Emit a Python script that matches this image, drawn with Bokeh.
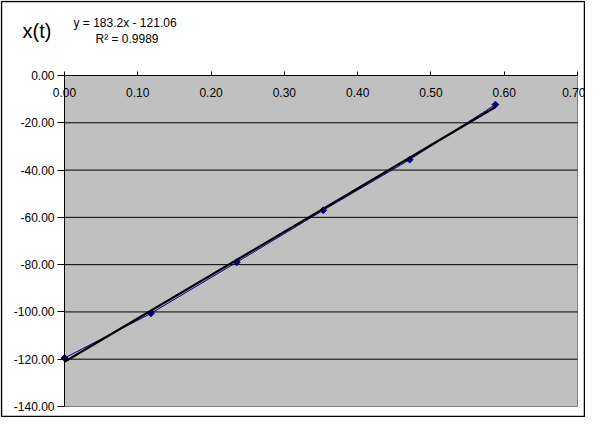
import numpy as np
from bokeh.plotting import figure
from bokeh.models import LinearAxis, FixedTicker, NumeralTickFormatter, Label, ColumnDataSource
from bokeh.embed import file_html
from bokeh.resources import INLINE

# ---- data ----
t_values = [0.0, 0.118, 0.235, 0.353, 0.471, 0.588]
x_values = [-119.5, -100.6, -79.0, -57.0, -35.6, -12.3]
trend_slope = 183.2
trend_intercept = -121.06
r_squared = 0.9989
x_ticks = [0.0, 0.1, 0.2, 0.3, 0.4, 0.5, 0.6, 0.7]
y_ticks = [-140, -120, -100, -80, -60, -40, -20, 0]
y_grid = [-120, -100, -80, -60, -40, -20]
y_title = "x(t)"

FONT = "Liberation Sans"
W, H = 585, 417
# plot area placement inside the canvas (pixels)
PL, PR, PT, PB = 64, 577, 75, 406
X0, X1 = x_ticks[0], x_ticks[-1]
Y0, Y1 = y_ticks[0], y_ticks[-1]
sx = (PR - PL) / (X1 - X0)
sy = (PB - PT) / (Y1 - Y0)
x_range = (X0 - PL / sx, X1 + (W - PR) / sx)
y_range = (Y0 - (H - PB) / sy, Y1 + PT / sy)


def px_to_data(px, py):
    return (X0 + (px - PL) / sx, Y1 - (py - PT) / sy)


p = figure(width=W, height=H, x_range=x_range, y_range=y_range,
           output_backend="svg", toolbar_location=None,
           x_axis_location=None, y_axis_location=None,
           min_border=0, title=None)
p.background_fill_color = "white"
p.border_fill_color = "white"
p.outline_line_color = None
p.grid.visible = False

# chart outer border
bl, bt = px_to_data(1, 1)
br, bb = px_to_data(W - 1, H - 1)
p.quad(left=[bl], right=[br], bottom=[bb], top=[bt],
       fill_color=None, line_color="black", line_width=1.5)

# plot area
p.quad(left=[X0], right=[X1], bottom=[Y0], top=[Y1],
       fill_color="#C0C0C0", line_color="#808080", line_width=1)
# horizontal gridlines
p.segment(x0=[X0] * len(y_grid), x1=[X1] * len(y_grid), y0=y_grid, y1=y_grid,
          line_color="black", line_width=1)

# x axis crossing at y = 0, labels below the line
xaxis = LinearAxis(fixed_location=0, bounds=(X0, X1), ticker=FixedTicker(ticks=x_ticks),
                   formatter=NumeralTickFormatter(format="0.00"))
xaxis.major_tick_in = 4
xaxis.major_tick_out = 0
xaxis.minor_tick_in = 0
xaxis.minor_tick_out = 0
xaxis.major_label_standoff = 12
xaxis.axis_line_color = "black"
xaxis.major_tick_line_color = "black"
xaxis.major_label_text_font = FONT
xaxis.major_label_text_font_size = "12px"
xaxis.major_label_text_color = "black"
p.add_layout(xaxis, "below")

yaxis = LinearAxis(fixed_location=0, bounds=(Y0, Y1), ticker=FixedTicker(ticks=y_ticks),
                   formatter=NumeralTickFormatter(format="0.00"))
yaxis.major_tick_out = 7
yaxis.major_tick_in = 0
yaxis.minor_tick_in = 0
yaxis.minor_tick_out = 0
yaxis.major_label_standoff = 3
yaxis.axis_line_color = "black"
yaxis.major_tick_line_color = "black"
yaxis.major_label_text_font = FONT
yaxis.major_label_text_font_size = "12px"
yaxis.major_label_text_color = "black"
p.add_layout(yaxis, "left")

src = ColumnDataSource(dict(t=t_values, x=x_values))
t_fit = np.array([min(t_values), max(t_values)])
trend_src = ColumnDataSource(dict(t=t_fit, x=trend_slope * t_fit + trend_intercept))

p.line("t", "x", source=src, line_color="#000080", line_width=1)
p.scatter("t", "x", source=src, marker="square", angle=np.pi / 4, size=4.8,
          fill_color="#000080", line_color="#000080")
p.line("t", "x", source=trend_src, line_color="black", line_width=2.2)

lx, ly = px_to_data(22, 30)
p.add_layout(Label(x=lx, y=ly, text=y_title, text_font=FONT,
                   text_font_size="20px", text_baseline="middle", text_color="black"))
ex, ey = px_to_data(73, 22)
p.add_layout(Label(x=ex, y=ey, text=f"y = {trend_slope}x  - {abs(trend_intercept)}",
                   text_font=FONT, text_font_size="12px", text_baseline="middle",
                   text_color="black"))
rx, ry = px_to_data(95, 38)
p.add_layout(Label(x=rx, y=ry, text=f"R\u00b2 = {r_squared}",
                   text_font=FONT, text_font_size="12px", text_baseline="middle",
                   text_color="black"))

open("out.html", "w").write(file_html(p, INLINE))
